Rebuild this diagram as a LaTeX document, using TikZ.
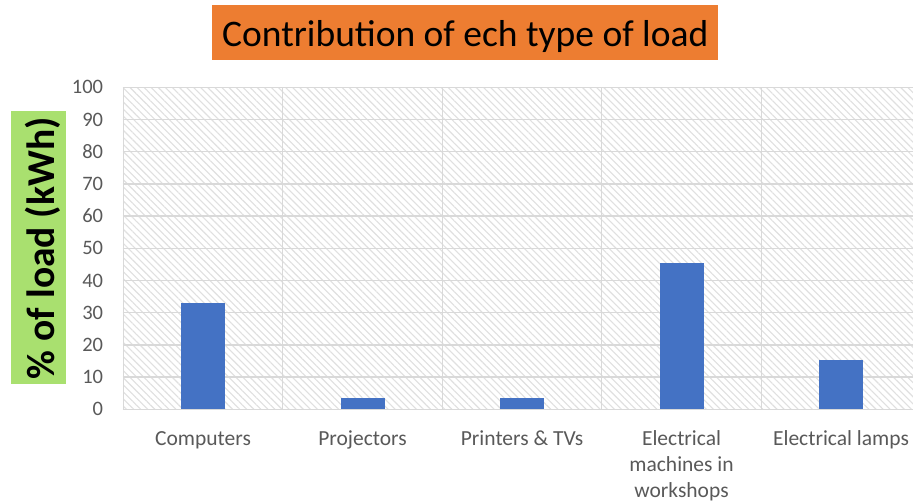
\documentclass[tikz,border=0pt]{standalone}
\usepackage{fontspec}
\setmainfont{Carlito}
\usetikzlibrary{patterns.meta}
\definecolor{titleorange}{HTML}{ED7D31}
\definecolor{labelgreen}{HTML}{A9E06F}
\definecolor{barblue}{HTML}{4472C4}
\definecolor{gridgray}{HTML}{D9D9D9}
\definecolor{hatchgray}{HTML}{E0E0E0}
\definecolor{textgray}{HTML}{595959}
\begin{document}
\begin{tikzpicture}[x=1pt,y=-1pt,
 ticklabel/.style={anchor=east,inner sep=0pt,text=textgray,font=\fontsize{20.5}{24}\selectfont},
 catlabel/.style={anchor=base,inner sep=0pt,text=textgray,align=center,font=\fontsize{21.5}{26}\selectfont},
 barbox/.style={fill=barblue,draw=none},
 gridline/.style={draw=gridgray,line width=1.3pt}]
\fill[white] (0,0) rectangle (913,502);
\useasboundingbox (0,0) rectangle (913,502);
% title
\fill[titleorange] (212.3,5) rectangle (718.3,60.3);
\node[anchor=base,inner sep=0pt,font=\fontsize{37.5}{40}\selectfont] (title) at (465.3,46.7) {Contribution of ech type of load};
% y label
\fill[labelgreen] (11,111) rectangle (65.7,384.3);
\node[rotate=90,anchor=base,inner sep=0pt,font=\bfseries\fontsize{39.5}{42}\selectfont] (ylabel) at (54.5,248.3) {\% of load (kWh)};
% plot area
\begin{scope}
\clip (122,80) rectangle (913,412);
\fill[pattern={Lines[angle=-45,distance=5pt,line width=1.1pt]}, pattern color=hatchgray] (123.3,87.3) rectangle (921,409.3);
\foreach \v in {0,10,...,100} \draw[gridline] (122.6,{409.3-3.22*\v}) -- (922,{409.3-3.22*\v});
\foreach \i in {0,...,5} \draw[gridline] ({123.3+159.5*\i},87.3) -- ({123.3+159.5*\i},409.3);
\end{scope}
% bars
\foreach \i/\val in {0/32.9,1/3.5,2/3.5,3/45.3,4/15.2}
  \fill[barbox] ({123.3+159.5*(\i+0.5)-22},409.3) rectangle ({123.3+159.5*(\i+0.5)+22},{409.3-3.22*\val});
% tick labels
\foreach \v in {0,10,...,100} \node[ticklabel] (t\v) at (103.3,{409.3-3.22*\v}) {\v};
% category labels
\node[catlabel] (c1) at (203.05,445.5) {Computers};
\node[catlabel] (c2) at (362.55,445.5) {Projectors};
\node[catlabel] (c3) at (522.05,445.5) {Printers \& TVs};
\node[catlabel] (c4) at (681.55,497.5) {Electrical\\machines in\\workshops};
\node[catlabel] (c5) at (841.05,445.5) {Electrical lamps};
\end{tikzpicture}
\end{document}
